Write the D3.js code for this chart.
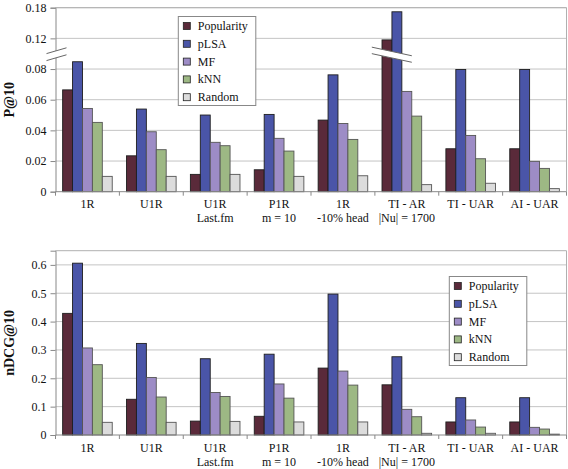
<!DOCTYPE html>
<html><head><meta charset="utf-8">
<script src="https://cdn.jsdelivr.net/npm/d3@7"></script>
<style>
body{margin:0;background:#fff;}
svg{display:block;}
svg text{font-family:'Liberation Serif','DejaVu Serif','Times New Roman',serif;}
</style></head>
<body><svg id="c" width="568" height="469"></svg>
<script>
const categories = [["1R"],["U1R"],["U1R","Last.fm"],["P1R","m = 10"],["1R","-10% head"],["TI - AR","|Nu| = 1700"],["TI - UAR"],["AI - UAR"]];
const seriesNames = ["Popularity","pLSA","MF","kNN","Random"];
const seriesColors = ["#5a2a3a","#4a55a8","#9d8cc6","#9db884","#dcdcdc"];

// P@10
const pPopularity = [0.0664,0.0234,0.0113,0.0143,0.0467,0.118,0.028,0.028];
const pPLSA       = [0.0895,0.0539,0.0500,0.0504,0.0762,0.172,0.0797,0.0797];
const pMF         = [0.0543,0.0391,0.0322,0.0348,0.0445,0.0654,0.0367,0.0198];
const pKNN        = [0.0452,0.0274,0.0300,0.0265,0.0341,0.0493,0.0215,0.0152];
const pRandom     = [0.0100,0.0100,0.0113,0.0100,0.0104,0.0046,0.0055,0.0020];
const pTicks = [0,0.02,0.04,0.06,0.08,0.12,0.18];
const pTickLabels = ["0","0.02","0.04","0.06","0.08","0.12","0.18"];

// nDCG@10
const nPopularity = [0.429,0.126,0.049,0.066,0.236,0.177,0.046,0.046];
const nPLSA       = [0.606,0.323,0.269,0.285,0.497,0.276,0.1315,0.1315];
const nMF         = [0.307,0.203,0.150,0.180,0.2255,0.0905,0.053,0.027];
const nKNN        = [0.248,0.134,0.136,0.130,0.176,0.0645,0.028,0.021];
const nRandom     = [0.0447,0.0447,0.048,0.046,0.046,0.006,0.006,0.003];
const nTicks = [0,0.1,0.2,0.3,0.4,0.5,0.6];
const nTickLabels = ["0","0.1","0.2","0.3","0.4","0.5","0.6"];

const FONT = "'Liberation Serif','DejaVu Serif',serif";
const svg = d3.select("#c");
const catKeys = categories.map((c,i)=>i);

function drawChart(opt){
  const g = svg.append("g");
  const {left,right,top,bottom,y,values,ticks,tickLabels,yLabel,legendX,legendY} = opt;
  const x0 = d3.scaleBand().domain(catKeys).range([left,right]).padding(0);
  const x1 = d3.scaleBand().domain(seriesNames).range([0,x0.bandwidth()]).paddingInner(0).paddingOuter(0.72);

  g.selectAll(".grid").data(ticks.filter(t=>t>0)).join("line")
    .attr("x1",left).attr("x2",right)
    .attr("y1",d=>y(d)).attr("y2",d=>y(d))
    .attr("stroke","#c4c4c4").attr("stroke-width",1);
  g.append("path").attr("d",`M${left},${top}H${right}V${bottom}`)
    .attr("fill","none").attr("stroke","#b0b0b0").attr("stroke-width",1);

  seriesNames.forEach((s,si)=>{
    g.append("g").selectAll("rect").data(values[si]).join("rect")
      .attr("x",(d,i)=>x0(i)+x1(s))
      .attr("width",x1.bandwidth())
      .attr("y",d=>y(d))
      .attr("height",d=>y(0)-y(d))
      .attr("fill",seriesColors[si])
      .attr("stroke",si<2?"#1e1e1e":"#555")
      .attr("stroke-width",0.9);
  });

  const ya = d3.axisLeft(y).tickValues(ticks).tickSize(5).tickPadding(4)
    .tickFormat((d,i)=>tickLabels[i]);
  const yg = g.append("g").attr("transform",`translate(${left},0)`).call(ya)
    .attr("font-family",FONT).attr("font-size",12);
  yg.select(".domain").attr("stroke","#888");
  yg.selectAll(".tick line").attr("stroke","#888");
  yg.selectAll("text").attr("fill","#111");

  g.append("line").attr("x1",left).attr("x2",right).attr("y1",y(0)).attr("y2",y(0))
    .attr("stroke","#888");
  g.selectAll(".xt").data(d3.range(categories.length+1)).join("line")
    .attr("x1",d=>left+d*x0.step()).attr("x2",d=>left+d*x0.step())
    .attr("y1",y(0)).attr("y2",y(0)+4).attr("stroke","#888");
  const lab = g.selectAll(".xl").data(categories).join("text")
    .attr("x",(d,i)=>x0(i)+x0.bandwidth()/2)
    .attr("y",y(0)+16.5)
    .attr("text-anchor","middle").attr("font-family",FONT).attr("font-size",12).attr("fill","#111");
  lab.selectAll("tspan").data(d=>d).join("tspan")
    .attr("x",function(){return this.parentNode.getAttribute("x");})
    .attr("dy",(d,i)=>i===0?0:14).text(d=>d);

  g.append("text").attr("transform",`translate(13.5,${(top+bottom)/2}) rotate(-90)`)
    .attr("text-anchor","middle").attr("font-weight","bold").attr("font-size",14)
    .attr("font-family",FONT).attr("fill","#111").text(yLabel);

  const lg = g.append("g").attr("transform",`translate(${legendX},${legendY})`);
  lg.append("rect").attr("x",0).attr("y",0).attr("width",77.5).attr("height",89)
    .attr("fill","#fff").attr("stroke","#888");
  seriesNames.forEach((s,si)=>{
    const cy = 9.5+si*17.8;
    lg.append("rect").attr("x",5).attr("y",cy-3.5).attr("width",7).attr("height",7)
      .attr("fill",seriesColors[si]).attr("stroke","#222").attr("stroke-width",0.8);
    lg.append("text").attr("x",19.5).attr("y",cy+4).attr("font-size",12)
      .attr("font-family",FONT).attr("fill","#111").text(s);
  });
  return {g,x0,x1};
}

const tTop = 7.7, tBottom = 191.7, tStep = (tBottom-tTop)/6;
const yP = d3.scaleLinear().domain([0,0.08,0.12,0.18])
  .range([tBottom,tBottom-4*tStep,tBottom-5*tStep,tTop]);
const chartP = drawChart({left:55.5,right:566.5,top:tTop,bottom:tBottom,y:yP,
  values:[pPopularity,pPLSA,pMF,pKNN,pRandom],ticks:pTicks,tickLabels:pTickLabels,
  yLabel:"P@10",legendX:178.3,legendY:16.5});

function breakMark(g,cx,cy,halfW,slope,gap){
  const x1=cx-halfW,x2=cx+halfW,yA=cy-slope*halfW,yB=cy+slope*halfW;
  g.append("path").attr("d",`M${x1},${yA-gap/2}L${x2},${yB-gap/2}L${x2},${yB+gap/2}L${x1},${yA+gap/2}Z`)
    .attr("fill","#fff").attr("stroke","none");
  g.append("line").attr("x1",x1).attr("y1",yA-gap/2).attr("x2",x2).attr("y2",yB-gap/2).attr("stroke","#666");
  g.append("line").attr("x1",x1).attr("y1",yA+gap/2).attr("x2",x2).attr("y2",yB+gap/2).attr("stroke","#666");
}
breakMark(chartP.g,56.5,yP(0.10)+0.5,10,-0.29,7);
breakMark(chartP.g,chartP.x0(5)+chartP.x0.bandwidth()/2-15,yP(0.10)+1,20,0.215,6.5);

const yN = d3.scaleLinear().domain([0,0.65]).range([435,250.7]);
drawChart({left:55.5,right:566.5,top:250.7,bottom:435,y:yN,
  values:[nPopularity,nPLSA,nMF,nKNN,nRandom],ticks:nTicks,tickLabels:nTickLabels,
  yLabel:"nDCG@10",legendX:449.3,legendY:276.5});
</script></body></html>
